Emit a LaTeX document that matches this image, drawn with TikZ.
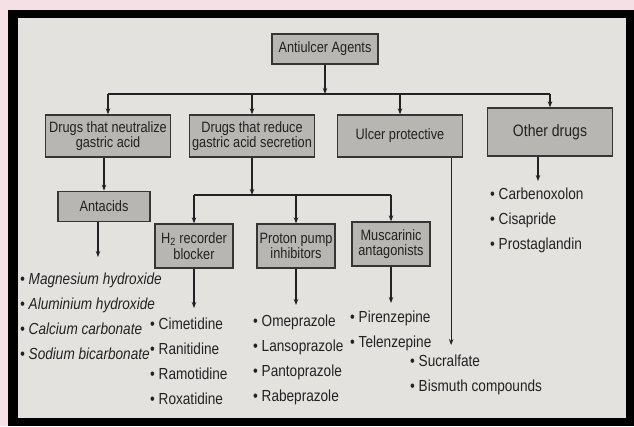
\documentclass[tikz,border=0pt]{standalone}
\usepackage{fontspec}
\setmainfont{Liberation Sans}[FakeStretch=0.85]
\usetikzlibrary{arrows.meta,positioning,calc}
\definecolor{paper}{HTML}{E4E2DF}
\definecolor{boxfill}{HTML}{B8B6B2}
\definecolor{boxline}{HTML}{353535}
\definecolor{ink}{HTML}{222222}
\definecolor{rim}{HTML}{F5E1E5}

\begin{document}
\begin{tikzpicture}[x=1pt, y=1pt, >={Stealth[length=6pt,width=4.5pt]},
    every node/.style={text=ink},
    box/.style={draw=boxline, line width=1.3pt, fill=boxfill, align=center, inner sep=2pt, font=\fontsize{15}{15.5}\selectfont},
    bigbox/.style={box, minimum width=125pt, minimum height=42pt},
    subbox/.style={box, minimum width=78pt, minimum height=44pt},
    drugs/.style={align=left, inner sep=0pt, anchor=north west, font=\fontsize{16}{25}\selectfont},
    link/.style={draw=ink, line width=1.2pt}]
      \useasboundingbox (0,0) rectangle (634,426);
      \fill[rim] (0,0) rectangle (634,426);
      \fill[black] (8,0) rectangle (634,416);
      \fill[paper] (18,8) rectangle (626,408);

      \node[box, minimum width=106pt, minimum height=30pt] (root) at (325,377) {Antiulcer Agents};
      \node[bigbox] (neut) at (108,290) {Drugs that neutralize\\gastric acid};
      \node[bigbox] (reduce) at (252,290) {Drugs that reduce\\gastric acid secretion};
      \node[bigbox] (ulcer) at (400,290) {Ulcer protective};
      \node[bigbox, minimum height=48pt, font=\fontsize{16.5}{17}\selectfont] (other) at (550,294) {Other drugs};
      \node[box, minimum width=92pt, minimum height=30pt] (antacids) [below=33pt of neut, xshift=-4pt] {Antacids};
      \node[subbox] (h2) at (194,180) {H\textsubscript{2} recorder\\blocker};
      \node[subbox] (proton) at (296,180) {Proton pump\\inhibitors};
      \node[subbox] (musc) at (391,182) {Muscarinic\\antagonists};

      \node[drugs, font=\itshape\fontsize{16}{25}\selectfont] (alist) at (20,153) {\textbullet\ Magnesium hydroxide\\\textbullet\ Aluminium hydroxide\\\textbullet\ Calcium carbonate\\\textbullet\ Sodium bicarbonate};
      \node[drugs] (hlist) at (150,108) {\textbullet\ Cimetidine\\\textbullet\ Ranitidine\\\textbullet\ Ramotidine\\\textbullet\ Roxatidine};
      \node[drugs] (plist) at (253,111) {\textbullet\ Omeprazole\\\textbullet\ Lansoprazole\\\textbullet\ Pantoprazole\\\textbullet\ Rabeprazole};
      \node[drugs] (mlist) at (350,115) {\textbullet\ Pirenzepine\\\textbullet\ Telenzepine};
      \node[drugs] (ulist) at (410,71) {\textbullet\ Sucralfate\\\textbullet\ Bismuth compounds};
      \node[drugs] (olist) at (490,238) {\textbullet\ Carbenoxolon\\\textbullet\ Cisapride\\\textbullet\ Prostaglandin};

      \coordinate (bus) at (325,332);
      \coordinate (sbus) at (255,231);
      \coordinate (uc) at ([xshift=-12pt]ulcer.south east);

      \draw[link,->] (root) -- (bus);
      \draw[link] (neut.north |- bus) -- (other.north |- bus);
      \foreach \n in {neut,reduce,ulcer,other}
        \draw[link,->] (\n.north |- bus) -- (\n.north);
      \draw[link,->] (antacids.north |- neut.south) -- (antacids.north);

      \draw[link,->] (reduce.south) -- (reduce.south |- sbus);
      \draw[link] (h2.north |- sbus) -- (musc.north |- sbus);
      \foreach \n in {h2,proton,musc}
        \draw[link,->] (\n.north |- sbus) -- (\n.north);

      \draw[link,->] ([xshift=-6pt]antacids.south) -- ($([xshift=-6pt]antacids.south |- alist.north)+(0,16)$);
      \draw[link,->] (h2) -- ($(h2.south |- hlist.north)+(0,10)$);
      \draw[link,->] (proton) -- ($(proton.south |- plist.north)+(0,10)$);
      \draw[link,->] (musc) -- ($(musc.south |- mlist.north)+(0,8)$);
      \draw[link,->] (uc) -- ($(uc |- ulist.north)+(0,10)$);
      \draw[link,->] ([xshift=-12pt]other.south) -- ($([xshift=-12pt]other.south |- olist.north)+(0,7)$);
\end{tikzpicture}
\end{document}
